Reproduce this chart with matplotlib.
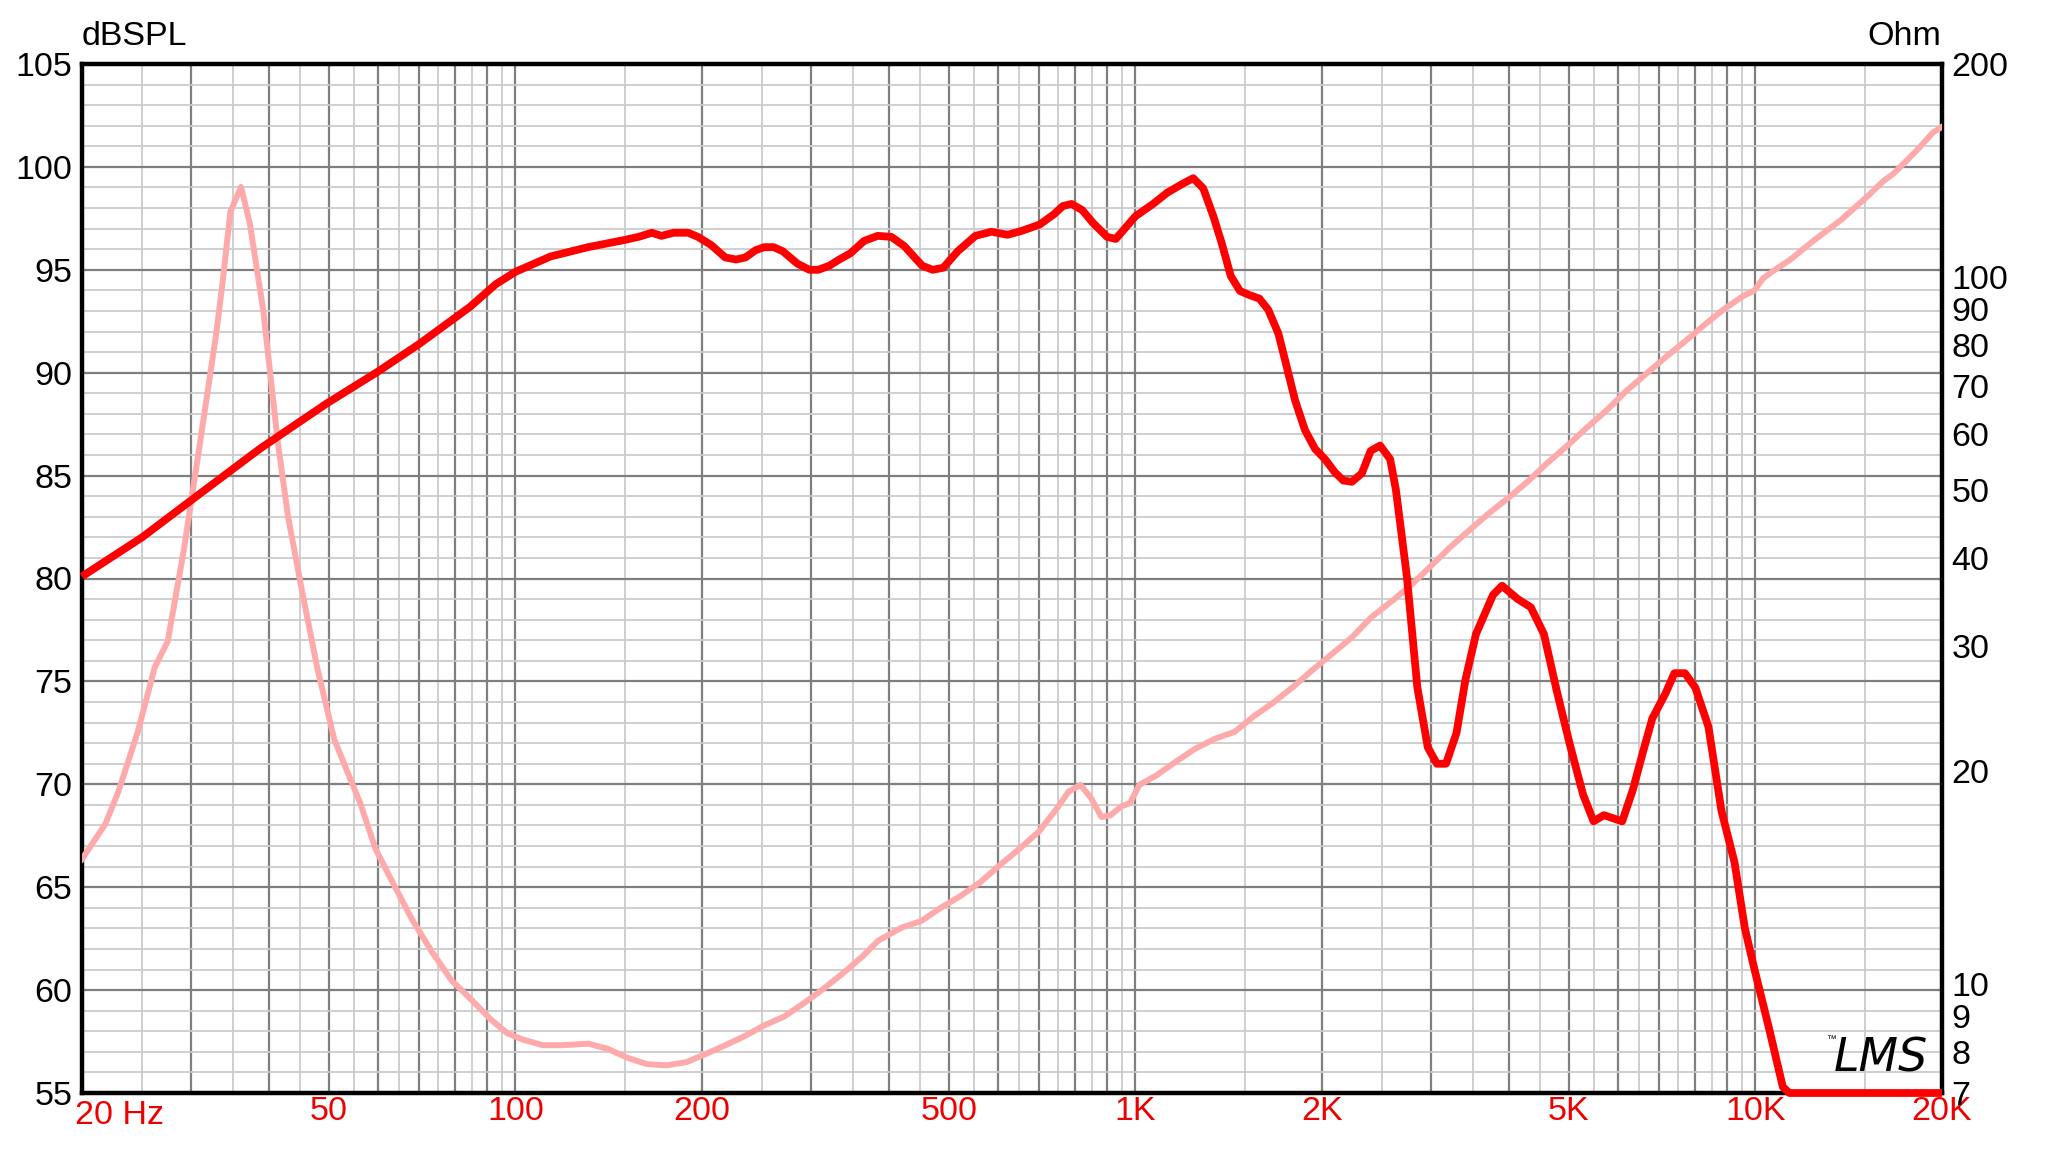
import numpy as np
import matplotlib
matplotlib.use('Agg')
import matplotlib.pyplot as plt
import matplotlib.transforms as mtransforms
from matplotlib.ticker import LogLocator, MultipleLocator, FuncFormatter, NullFormatter, NullLocator, FixedLocator

plt.rcParams['font.family'] = ['Liberation Sans', 'DejaVu Sans']

# SPL response (Hz, dB)
spl_freq = [20, 25, 30, 38.7, 49.6, 60, 70, 84.5, 93, 100, 114, 131, 150, 158, 166, 172, 180,
            190, 197, 207, 218, 227, 235, 244, 252, 261, 270, 285, 298, 308, 321, 333, 347,
            365, 384, 404, 424, 453, 471, 490, 517, 552, 586, 622, 657, 701, 739, 764, 789,
            821, 853, 900, 930, 1000, 1068, 1126, 1195, 1240, 1287, 1336, 1378, 1425, 1475,
            1531, 1585, 1638, 1701, 1754, 1810, 1878, 1949, 2022, 2098, 2165, 2234, 2318,
            2396, 2481, 2576, 2632, 2741, 2850, 2962, 3064, 3170, 3296, 3408, 3543, 3774,
            3903, 4138, 4344, 4560, 4786, 5024, 5274, 5484, 5698, 6098, 6340, 6592, 6820,
            7158, 7404, 7698, 8002, 8400, 8818, 9256, 9618, 9950, 10548, 11072, 11344, 20000]
spl_db = [80.1, 82.0, 83.8, 86.3, 88.5, 90.05, 91.4, 93.2, 94.3, 94.9, 95.65, 96.1, 96.45, 96.6,
          96.8, 96.65, 96.8, 96.8, 96.6, 96.2, 95.6, 95.5, 95.6, 95.95, 96.1, 96.1, 95.9, 95.3,
          95.0, 95.0, 95.2, 95.5, 95.8, 96.4, 96.65, 96.6, 96.15, 95.2, 95.0, 95.1, 95.9, 96.65,
          96.85, 96.7, 96.9, 97.2, 97.7, 98.1, 98.2, 97.9, 97.3, 96.6, 96.5, 97.6, 98.2, 98.75,
          99.2, 99.45, 98.95, 97.6, 96.3, 94.7, 93.97, 93.76, 93.6, 93.06, 91.9, 90.3, 88.65,
          87.2, 86.3, 85.8, 85.16, 84.76, 84.7, 85.1, 86.2, 86.46, 85.8, 84.3, 80.1, 74.7, 71.8,
          71.0, 71.0, 72.5, 75.1, 77.3, 79.2, 79.65, 79.0, 78.6, 77.3, 74.5, 71.9, 69.5, 68.2,
          68.5, 68.2, 69.7, 71.6, 73.2, 74.4, 75.4, 75.4, 74.7, 72.8, 68.7, 66.2, 63.0, 61.1,
          58.0, 55.3, 55.0, 55.0]

# Impedance (Hz, Ohm)
imp_freq = [20, 21.8, 22.9, 24.6, 26.2, 27.5, 29.2, 31.0, 32.9, 33.7, 34.7, 36.1, 37.3, 39.2,
            41.4, 43.0, 45.2, 47.9, 51.0, 53.5, 56.2, 59.5, 63.4, 68.2, 73.3, 78.9, 84.8, 91.2,
            97.1, 102.9, 110.7, 119.1, 131.2, 141.1, 151.7, 163.1, 175.4, 188.7, 202.9, 218.2,
            234.6, 252.4, 271.4, 292, 314, 337.6, 363.2, 384.8, 419.8, 451.6, 485.6, 522.4,
            561.6, 604, 649.6, 698.6, 744, 781, 815.8, 848.2, 881.8, 912, 948, 980.6, 1015,
            1081, 1162, 1250, 1344, 1445, 1554, 1672, 1798, 1933, 2079, 2236, 2404, 2586, 2782,
            2991, 3216, 3458, 3720, 4001, 4302, 4627, 4976, 5352, 5754, 6188, 6656, 7158, 7698,
            8278, 8902, 9572, 9950, 10294, 10700, 11344, 12498, 13772, 15172, 16070, 16718,
            18220, 19340, 20000]
imp_ohm = [15.0, 16.8, 18.7, 22.7, 28.0, 30.5, 41.1, 58.2, 82.7, 97.9, 123.6, 134, 119, 89.7,
           58.2, 45.7, 36.2, 28.0, 22.2, 20.0, 18.0, 15.5, 13.9, 12.3, 11.1, 10.1, 9.5, 8.9,
           8.5, 8.33, 8.18, 8.18, 8.22, 8.08, 7.85, 7.69, 7.66, 7.74, 7.95, 8.18, 8.43, 8.73,
           8.98, 9.38, 9.83, 10.34, 10.93, 11.5, 12.0, 12.26, 12.8, 13.3, 13.9, 14.7, 15.5,
           16.4, 17.6, 18.7, 19.1, 18.3, 17.2, 17.3, 17.8, 18.0, 19.1, 19.7, 20.6, 21.5, 22.2,
           22.7, 23.9, 25.0, 26.3, 27.8, 29.3, 30.9, 33.0, 34.7, 36.6, 38.9, 41.4, 43.8, 46.3,
           48.7, 51.4, 54.6, 57.7, 61.2, 64.7, 68.9, 72.8, 76.9, 81.0, 85.5, 90.0, 94.0, 95.5,
           99.5, 102.0, 105.5, 113.0, 120.5, 130.0, 136.5, 140.0, 151.0, 160.0, 163.0]

x_labels = {50: '50', 100: '100', 200: '200', 500: '500', 1000: '1K', 2000: '2K',
            5000: '5K', 10000: '10K', 20000: '20K'}
db_ticks = [55, 60, 65, 70, 75, 80, 85, 90, 95, 100, 105]
ohm_ticks = [7, 8, 9, 10, 20, 30, 40, 50, 60, 70, 80, 90, 100, 200]

W, H = 2048, 1156
fs = 24.5
fig = plt.figure(figsize=(W / 100, H / 100), dpi=100)
ax = fig.add_axes([82 / W, 63 / H, 1860 / W, 1029 / H])

ax.set_xscale('log')
ax.set_xlim(20, 20000)
ax.set_ylim(55, 105)
ax.xaxis.set_major_locator(LogLocator(base=10, subs=np.arange(1, 10), numticks=60))
ax.xaxis.set_minor_locator(LogLocator(base=10, subs=np.arange(1.5, 10, 1), numticks=60))
ax.xaxis.set_major_formatter(FuncFormatter(lambda v, p: x_labels.get(int(round(v)), '')))
ax.xaxis.set_minor_formatter(NullFormatter())
ax.yaxis.set_major_locator(FixedLocator(db_ticks))
ax.yaxis.set_minor_locator(MultipleLocator(1))
ax.set_axisbelow(True)
ax.grid(which='major', color='#7f7f7f', lw=1.6)
ax.grid(which='minor', color='#cbcbcb', lw=1.3)
ax.tick_params(axis='x', which='both', length=0, pad=2, labelsize=fs, labelcolor='#ee0000')
ax.tick_params(axis='y', which='both', length=0, pad=7, labelsize=fs, labelcolor='black')
for s in ax.spines.values():
    s.set_linewidth(3.2)
    s.set_color('black')

# "20 Hz" label at the left end
trans = mtransforms.blended_transform_factory(ax.transData, ax.transAxes)
ax.text(20, -0.007, '20 Hz', transform=trans + mtransforms.ScaledTranslation(-7 / 100, 0, fig.dpi_scale_trans),
        ha='left', va='top', fontsize=fs, color='#ee0000')

# impedance axis
ax2 = ax.twinx()
ax2.set_yscale('log')
ax2.set_ylim(7, 200)
ax2.yaxis.set_major_locator(FixedLocator(ohm_ticks))
ax2.yaxis.set_major_formatter(FuncFormatter(lambda v, p: '%d' % round(v)))
ax2.yaxis.set_minor_locator(NullLocator())
ax2.tick_params(axis='y', length=0, pad=7, labelsize=fs)
for s in ax2.spines.values():
    s.set_visible(False)
ax2.plot(imp_freq, imp_ohm, color='#ffaaaa', lw=4.3, solid_joinstyle='round')

# SPL on top
ax3 = ax.twinx()
ax3.set_ylim(55, 105)
ax3.set_yticks([])
for s in ax3.spines.values():
    s.set_visible(False)
ax3.plot(spl_freq, spl_db, color='#ff0000', lw=5.6, clip_on=False,
         solid_joinstyle='round', solid_capstyle='butt')

fig.text(82 / W, 1 - 45 / H, 'dBSPL', fontsize=fs, ha='left', va='baseline')
fig.text(1941 / W, 1 - 45 / H, 'Ohm', fontsize=fs, ha='right', va='baseline')

# logo
fig.text(1834 / W, 1 - 1072 / H, 'LMS', fontsize=33, style='italic', ha='left', va='baseline',
         family='DejaVu Sans', fontweight='light')
fig.text(1826 / W, 1 - 1042 / H, '\u2122', fontsize=7, ha='left', va='baseline')

fig.savefig('out.png', dpi=100, facecolor='white')
